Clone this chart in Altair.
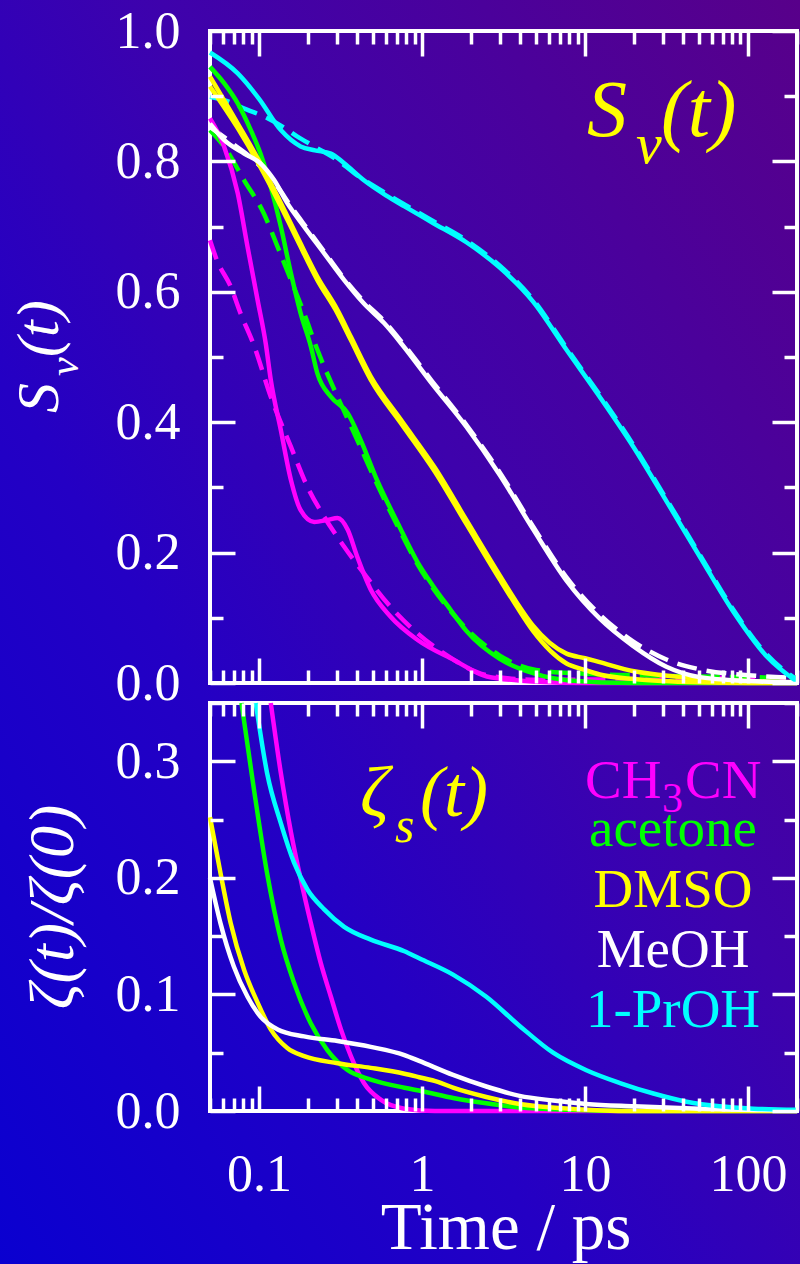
import altair as alt
import pandas as pd

# ------------------------------------------------------------------ data
solvents = ["CH3CN", "acetone", "DMSO", "MeOH", "1-PrOH"]
colors = ["#ff00ff", "#00ff00", "#ffff00", "#ffffff", "#00ffff"]

# ---- top panel: S_v(t), solid curves
sv_ch3cn_t = [0.05, 0.061, 0.074, 0.085, 0.098, 0.11, 0.118, 0.136, 0.157, 0.18, 0.218, 0.263,
              0.303, 0.35, 0.40, 0.485, 0.64, 0.94, 1.58, 2.5, 5, 10, 200]
sv_ch3cn = [0.866, 0.823, 0.751, 0.669, 0.587, 0.52, 0.465, 0.388, 0.311, 0.265, 0.247, 0.25,
            0.253, 0.235, 0.194, 0.143, 0.102, 0.066, 0.035, 0.01, 0.002, 0.0, 0.0]

sv_acetone_t = [0.05, 0.061, 0.074, 0.089, 0.102, 0.118, 0.136, 0.157, 0.18, 0.208, 0.228, 0.276,
                0.35, 0.42, 0.53, 0.71, 0.94, 1.16, 1.5, 1.87, 3.0, 4.8, 8, 20, 200]
sv_acetone = [0.945, 0.92, 0.889, 0.848, 0.812, 0.761, 0.70, 0.628, 0.567, 0.516, 0.475, 0.439,
              0.414, 0.373, 0.311, 0.245, 0.185, 0.15, 0.112, 0.08, 0.037, 0.015, 0.004, 0.0, 0.0]

sv_dmso_t = [0.05, 0.074, 0.102, 0.13, 0.172, 0.228, 0.303, 0.366, 0.485, 0.75, 1.2, 1.87, 3.0,
             3.8, 4.8, 7.7, 10, 12.3, 20, 30, 50, 100, 200]
sv_dmso = [0.93, 0.858, 0.797, 0.746, 0.684, 0.623, 0.572, 0.531, 0.47, 0.402, 0.33, 0.25, 0.165,
           0.124, 0.088, 0.045, 0.038, 0.032, 0.018, 0.012, 0.007, 0.003, 0.001]

# second DMSO curve (drawn solid too, it forms the thick yellow band)
sv_dmso2_t = [0.05, 0.074, 0.102, 0.13, 0.172, 0.228, 0.303, 0.366, 0.485, 0.75, 1.2, 1.87, 3.0,
              3.8, 4.8, 7.7, 10, 12.3, 20, 30, 50, 100, 200]
sv_dmso2 = [0.915, 0.851, 0.791, 0.741, 0.679, 0.618, 0.567, 0.526, 0.465, 0.397, 0.324, 0.244,
            0.159, 0.118, 0.08, 0.03, 0.02, 0.013, 0.006, 0.003, 0.001, 0.0, 0.0]

sv_meoh_t = [0.05, 0.061, 0.081, 0.102, 0.124, 0.149, 0.189, 0.251, 0.333, 0.44, 0.585, 0.75,
             1.16, 1.87, 3.0, 4.8, 7.7, 12.3, 19.7, 31.6, 50.6, 100, 200]
sv_meoh = [0.858, 0.833, 0.812, 0.797, 0.771, 0.736, 0.70, 0.659, 0.618, 0.582, 0.552, 0.52,
           0.458, 0.393, 0.319, 0.236, 0.157, 0.099, 0.057, 0.025, 0.009, 0.003, 0.001]

sv_proh_t = [0.05, 0.074, 0.1, 0.136, 0.18, 0.22, 0.276, 0.333, 0.44, 0.6, 0.78, 1.16, 1.87,
             3.0, 4.8, 7.7, 12.3, 19.7, 31.6, 50.6, 81, 130, 200]
sv_proh = [0.967, 0.935, 0.896, 0.848, 0.823, 0.817, 0.812, 0.797, 0.771, 0.748, 0.731, 0.706,
           0.676, 0.637, 0.585, 0.511, 0.439, 0.363, 0.279, 0.194, 0.11, 0.041, 0.002]

# ---- top panel: S_v(t), dashed curves
svd_ch3cn_t = [0.05, 0.055, 0.067, 0.077, 0.093, 0.118, 0.157, 0.198, 0.251, 0.333, 0.44, 0.64,
               0.94, 1.37, 2.5, 5, 20, 50, 200]
svd_ch3cn = [0.679, 0.649, 0.608, 0.567, 0.518, 0.439, 0.362, 0.301, 0.255, 0.209, 0.168, 0.117,
             0.076, 0.045, 0.012, 0.005, 0.006, 0.008, 0.008]

svd_acetone_t = [0.05, 0.061, 0.081, 0.107, 0.13, 0.157, 0.189, 0.228, 0.303, 0.4, 0.53, 0.71,
                 0.94, 1.5, 3.0, 5, 10, 20, 50, 200]
svd_acetone = [0.848, 0.823, 0.771, 0.72, 0.669, 0.618, 0.567, 0.511, 0.439, 0.373, 0.305, 0.24,
               0.182, 0.11, 0.042, 0.02, 0.014, 0.012, 0.01, 0.008]

svd_meoh_t = [0.05, 0.07, 0.093, 0.124, 0.16, 0.2, 0.25, 0.333, 0.44, 0.585, 0.75, 1.16, 1.87,
              3.0, 4.8, 7.7, 12.3, 19.7, 31.6, 50.6, 100, 200]
svd_meoh = [0.853, 0.826, 0.802, 0.768, 0.728, 0.695, 0.662, 0.62, 0.585, 0.555, 0.523, 0.462,
            0.396, 0.323, 0.24, 0.162, 0.105, 0.064, 0.036, 0.021, 0.012, 0.008]

svd_proh_t = [0.05, 0.061, 0.085, 0.107, 0.14, 0.172, 0.218, 0.303, 0.384, 0.6, 0.78, 1.16, 1.87,
              3.0, 4.8, 7.7, 12.3, 19.7, 31.6, 50.6, 81, 130, 200]
svd_proh = [0.899, 0.894, 0.879, 0.869, 0.853, 0.838, 0.823, 0.802, 0.782, 0.751, 0.734, 0.709,
            0.679, 0.64, 0.588, 0.514, 0.442, 0.366, 0.282, 0.197, 0.113, 0.044, 0.005]

# ---- bottom panel: zeta(t)/zeta(0)
z_ch3cn_t = [0.118, 0.136, 0.157, 0.18, 0.208, 0.239, 0.276, 0.318, 0.366, 0.44, 0.56, 0.78, 1.2, 200]
z_ch3cn = [0.35, 0.29, 0.239, 0.199, 0.161, 0.127, 0.098, 0.07, 0.047, 0.024, 0.0095, 0.002, 0.0, 0.0]

z_acetone_t = [0.078, 0.093, 0.112, 0.136, 0.164, 0.208, 0.263, 0.35, 0.485, 0.78, 1.0, 1.58,
               2.48, 4, 8, 20, 200]
z_acetone = [0.35, 0.276, 0.204, 0.147, 0.11, 0.075, 0.052, 0.035, 0.027, 0.02, 0.017, 0.011,
             0.0066, 0.003, 0.001, 0.0, 0.0]

z_dmso_t = [0.05, 0.058, 0.067, 0.081, 0.098, 0.118, 0.149, 0.189, 0.303, 0.485, 0.78, 0.96,
            1.25, 1.55, 2.48, 3.97, 8, 20, 200]
z_dmso = [0.252, 0.204, 0.161, 0.121, 0.093, 0.07, 0.054, 0.047, 0.041, 0.037, 0.032, 0.029,
          0.025, 0.02, 0.012, 0.006, 0.002, 0.0, 0.0]

z_meoh_t = [0.05, 0.058, 0.07, 0.085, 0.102, 0.13, 0.189, 0.303, 0.485, 0.78, 0.96, 1.55, 2.48,
            3.97, 6.37, 10.2, 20, 50, 200]
z_meoh = [0.2, 0.161, 0.124, 0.098, 0.081, 0.07, 0.064, 0.06, 0.055, 0.048, 0.043, 0.031, 0.021,
          0.013, 0.009, 0.006, 0.004, 0.002, 0.0005]

z_proh_t = [0.0955, 0.112, 0.136, 0.164, 0.198, 0.251, 0.333, 0.485, 0.78, 0.96, 1.55, 2.48,
            3.97, 6.37, 10.2, 16.4, 26.3, 42, 67, 108, 200]
z_proh = [0.35, 0.29, 0.247, 0.213, 0.19, 0.173, 0.158, 0.147, 0.137, 0.131, 0.117, 0.098,
          0.073, 0.05, 0.035, 0.024, 0.015, 0.008, 0.004, 0.002, 0.001]

x_label_values = [0.1, 1, 10, 100]
sv_label_values = [0.0, 0.2, 0.4, 0.6, 0.8, 1.0]
z_label_values = [0.0, 0.1, 0.2, 0.3]


def frame(ts, vs, solvent, series):
    return pd.DataFrame({"t": ts, "v": vs, "solvent": solvent, "series": series})


top_solid = pd.concat([
    frame(sv_ch3cn_t, sv_ch3cn, "CH3CN", "a"), frame(sv_acetone_t, sv_acetone, "acetone", "b"),
    frame(sv_dmso_t, sv_dmso, "DMSO", "c"), frame(sv_dmso2_t, sv_dmso2, "DMSO", "c2"),
    frame(sv_meoh_t, sv_meoh, "MeOH", "d"), frame(sv_proh_t, sv_proh, "1-PrOH", "e")],
    ignore_index=True)
top_dashed = pd.concat([
    frame(svd_ch3cn_t, svd_ch3cn, "CH3CN", "a"), frame(svd_acetone_t, svd_acetone, "acetone", "b"),
    frame(svd_meoh_t, svd_meoh, "MeOH", "d"), frame(svd_proh_t, svd_proh, "1-PrOH", "e")],
    ignore_index=True)
bottom = pd.concat([
    frame(z_ch3cn_t, z_ch3cn, "CH3CN", "a"), frame(z_acetone_t, z_acetone, "acetone", "b"),
    frame(z_dmso_t, z_dmso, "DMSO", "c"), frame(z_meoh_t, z_meoh, "MeOH", "d"),
    frame(z_proh_t, z_proh, "1-PrOH", "e")], ignore_index=True)

# ------------------------------------------------------------------ layout
W, H = 587, 1080          # plot area spanning both panels
TOP_Y0 = 652              # pixel row of S=0 (bottom edge of upper panel)
BOT_TOP = 672             # pixel row of upper edge of lower panel
FONT = "Liberation Serif"

x_scale = alt.Scale(type="log", domain=[0.05, 200], range=[0, W], nice=False)
y_top = alt.Scale(domain=[0, 1], range=[TOP_Y0, 0], nice=False, zero=False)
y_bot = alt.Scale(domain=[0, 0.35], range=[H, BOT_TOP], nice=False, zero=False)
c_scale = alt.Scale(domain=solvents, range=colors)


def lines(df, yscale, dash=None):
    kw = dict(strokeWidth=4.5, interpolate="monotone")
    if dash:
        kw["strokeDash"] = dash
    return alt.Chart(df).mark_line(**kw).encode(
        x=alt.X("t:Q", scale=x_scale, axis=None),
        y=alt.Y("v:Q", scale=yscale, axis=None),
        color=alt.Color("solvent:N", scale=c_scale, legend=None),
        detail="series:N",
    )


# tick positions
x_ticks = sorted({round(m * 10.0 ** e, 6) for e in range(-2, 3) for m in range(1, 10)
                  if 0.05 - 1e-9 <= m * 10.0 ** e <= 200 + 1e-9})
top_ticks = [round(i * 0.1, 2) for i in range(11)]
bot_ticks = [round(i * 0.05, 3) for i in range(8)]

X_MAJOR = "abs(log(datum.value)/LN10 - round(log(datum.value)/LN10)) < 0.01"
TOP_MAJOR = "abs(datum.value*5 - round(datum.value*5)) < 0.01"
BOT_MAJOR = "abs(datum.value*10 - round(datum.value*10)) < 0.01"


def tick_axis(orient, offset, values, test):
    return alt.Axis(orient=orient, offset=offset, values=values, labels=False, domain=False,
                    grid=False, ticks=True, tickColor="white", tickWidth=3.5, zindex=2,
                    tickSize={"condition": {"test": test, "value": 25}, "value": 13},
                    title=None)


def label_axis(orient, values, fmt, padding, baseline):
    return alt.Axis(orient=orient, values=values, format=fmt, labels=True, domain=False,
                    grid=False, ticks=False, tickSize=0, labelPadding=padding,
                    labelBaseline=baseline, labelFont=FONT, labelFontSize=52,
                    labelColor="white", labelFlush=False, labelOverlap=False,
                    labelBound=False, zindex=2, title=None)


probe = pd.DataFrame({"t": [1.0], "v": [0.0]})


def axis_layer(yscale, xaxis, yaxis):
    return alt.Chart(probe).mark_point(opacity=0).encode(
        x=alt.X("t:Q", scale=x_scale, axis=xaxis),
        y=alt.Y("v:Q", scale=yscale, axis=yaxis),
    )


one = pd.DataFrame({"a": [0]})

background = alt.Chart(one).mark_rect(
    fill={"gradient": "linear", "x1": 0, "y1": 1, "x2": 1, "y2": 0,
          "stops": [{"offset": 0, "color": "#0a00d0"},
                    {"offset": 0.35, "color": "#2400c4"},
                    {"offset": 0.6, "color": "#3e02ac"},
                    {"offset": 1, "color": "#58008a"}]}
).encode(x=alt.value(-210), x2=alt.value(590), y=alt.value(-31), y2=alt.value(1233))


def box(y0, y1):
    return alt.Chart(one).mark_rect(fillOpacity=0, stroke="white", strokeWidth=4).encode(
        x=alt.value(0), x2=alt.value(W), y=alt.value(y0), y2=alt.value(y1))


def txt(text, x, y, size, color="white", style="normal", angle=0, align="left"):
    kw = dict(text=text, font=FONT, fontSize=size, color=color, fontStyle=style,
              align=align, baseline="alphabetic")
    if angle:
        kw["angle"] = angle
    return alt.Chart(one).mark_text(**kw).encode(x=alt.value(x), y=alt.value(y))


texts = [
    # panel labels
    txt("S", 377, 105, 80, "#ffff00", "italic"),
    txt("ν", 426, 132, 58, "#ffff00", "italic"),
    txt("(t)", 451, 105, 80, "#ffff00", "italic"),
    txt("ζ", 150, 785, 72, "#ffff00", "italic"),
    txt("s", 185, 811, 50, "#ffff00", "italic"),
    txt("(t)", 210, 785, 72, "#ffff00", "italic"),
    # legend
    txt("CH", 375, 767, 55, "#ff00ff"),
    txt("3", 452, 781, 42, "#ff00ff"),
    txt("CN", 475, 767, 55, "#ff00ff"),
    txt("acetone", 463, 815, 55, "#00ff00", align="center"),
    txt("DMSO", 463, 876, 55, "#ffff00", align="center"),
    txt("MeOH", 463, 936, 55, "#ffffff", align="center"),
    txt("1-PrOH", 463, 996, 55, "#00ffff", align="center"),
    # axis titles
    txt("S", -152, 382, 60, "white", "italic", angle=270),
    txt("ν", -132, 345, 42, "white", "italic", angle=270),
    txt("(t)", -152, 326, 60, "white", "italic", angle=270),
    txt("ζ(t)/ζ(0)", -137, 876, 64, "white", "italic", angle=270, align="center"),
    txt("Time / ps", 296, 1218, 67, "white", align="center"),
]

axes = [
    axis_layer(y_top, tick_axis("bottom", -H, x_ticks, X_MAJOR),
               tick_axis("right", -W, top_ticks, TOP_MAJOR)),
    axis_layer(y_top, tick_axis("top", -TOP_Y0, x_ticks, X_MAJOR),
               tick_axis("left", -W, top_ticks, TOP_MAJOR)),
    axis_layer(y_top, None, label_axis("left", sv_label_values, ".1f", 30, "middle")),
    axis_layer(y_bot, tick_axis("bottom", -(H - BOT_TOP), x_ticks, X_MAJOR),
               tick_axis("right", -W, bot_ticks, BOT_MAJOR)),
    axis_layer(y_bot, tick_axis("top", -H, x_ticks, X_MAJOR),
               tick_axis("left", -W, bot_ticks, BOT_MAJOR)),
    axis_layer(y_bot, label_axis("bottom", x_label_values, "~g", 79, "alphabetic"),
               label_axis("left", z_label_values, ".1f", 30, "middle")),
]

chart = alt.layer(
    background,
    box(0, TOP_Y0),
    box(BOT_TOP, H),
    lines(top_dashed, y_top, [20, 10]),
    lines(top_solid, y_top),
    lines(bottom, y_bot),
    *axes,
    *texts,
).resolve_scale(
    x="independent", y="independent", color="independent"
).resolve_axis(
    x="independent", y="independent"
).properties(
    width=W, height=H,
    padding={"left": 210, "top": 31, "right": 3, "bottom": 153},
    autosize=alt.AutoSizeParams(type="none"),
    background="#2a00bc",
).configure_view(strokeWidth=0)

chart.save("out.html", embed_options={"renderer": "svg", "actions": False})
